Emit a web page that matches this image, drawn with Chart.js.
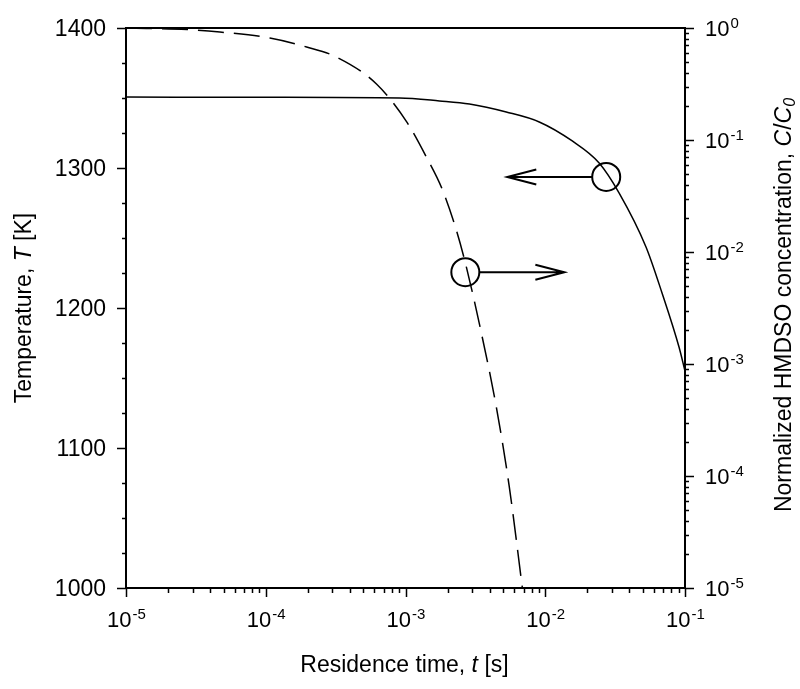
<!DOCTYPE html>
<html>
<head>
<meta charset="utf-8">
<script src="https://cdn.jsdelivr.net/npm/chart.js@4.4.1/dist/chart.umd.min.js"></script>
<style>
  html, body { margin: 0; padding: 0; background: #fff; }
  #wrap { width: 800px; height: 689px; }
</style>
</head>
<body>
<div id="wrap"><canvas id="chart"></canvas></div>
<script>
// Temperature along the reactor (solid line, left axis)
const tempTimes = [1e-5, 1e-4, 9.06e-4, 1.75e-3, 2.87e-3, 5.26e-3, 9.06e-3, 1.56e-2,
                   2.43e-2, 3.38e-2, 5.26e-2, 6.85e-2, 9.06e-2, 1e-1];
const tempValues = [1350.7, 1350.5, 1350, 1347.9, 1345.7, 1340, 1332.9, 1319.3,
                    1303.6, 1282.1, 1243.6, 1210.7, 1172.1, 1155];

// Normalized HMDSO concentration (dashed line, right axis)
const concTimes = [1e-5, 2.73e-5, 4.7e-5, 1.07e-4, 1.96e-4, 3.2e-4, 6.2e-4, 1.02e-3, 1.41e-3,
                   1.84e-3, 2.31e-3, 2.73e-3, 3.49e-3, 4.47e-3, 5.53e-3, 6.86e-3];
const concValues = [1.0, 0.97, 0.921, 0.814, 0.677, 0.551, 0.316, 0.145, 0.0705,
                    0.0358, 0.0157, 7.3e-3, 1.89e-3, 4.1e-4, 8.0e-5, 1.0e-5];

// Axis ticks
const timeTicks = [1e-5, 1e-4, 1e-3, 1e-2, 1e-1];
const timeTickExps = ['-5', '-4', '-3', '-2', '-1'];
const tempTicks = [1000, 1100, 1200, 1300, 1400];
const tempTickLabels = ['1000', '1100', '1200', '1300', '1400'];
const concTicks = [1e-5, 1e-4, 1e-3, 1e-2, 1e-1, 1];
const concTickExps = ['-5', '-4', '-3', '-2', '-1', '0'];

// Circle + arrow markers (which curve belongs to which axis)
const markerTimes = [2.73e-2, 2.68e-3];
const markerValues = [1293.6, 6.6e-3];
const markerAxes = ['y', 'y2'];
const arrowTipTimes = [5.35e-3, 1.37e-2];

const FONT = '"Liberation Sans", Arial, sans-serif';

// add 2..9 minor ticks between decades
function withMinors(decades) {
    const out = [];
    for (let i = 0; i < decades.length; i++) {
        out.push(decades[i]);
        if (i < decades.length - 1) {
            for (let k = 2; k <= 9; k++) out.push(k * decades[i]);
        }
    }
    return out;
}

function drawPower(ctx, exp, x, y, align) {
    // "10" with superscript exponent; y = baseline of "10"
    ctx.font = '22px ' + FONT;
    const wb = ctx.measureText('10').width;
    ctx.font = '15px ' + FONT;
    const we = ctx.measureText(exp).width;
    let x0 = x;
    if (align === 'center') x0 = x - (wb + we) / 2;
    ctx.textAlign = 'left';
    ctx.textBaseline = 'alphabetic';
    ctx.font = '22px ' + FONT;
    ctx.fillText('10', x0, y);
    ctx.font = '15px ' + FONT;
    ctx.fillText(exp, x0 + wb + 1, y - 8);
}

// parts: [text, style] where style is '', 'i' or 'sub'
function drawRich(ctx, parts, cx, cy, rot) {
    const size = 23;
    const fontFor = st => (st === 'i' || st === 'sub' ? 'italic ' : '') +
        (st === 'sub' ? 16 : size) + 'px ' + FONT;
    let total = 0;
    parts.forEach(p => { ctx.font = fontFor(p[1]); total += ctx.measureText(p[0]).width; });
    ctx.save();
    ctx.translate(cx, cy);
    if (rot) ctx.rotate(rot);
    ctx.textAlign = 'left';
    ctx.textBaseline = 'middle';
    let x = -total / 2;
    parts.forEach(p => {
        ctx.font = fontFor(p[1]);
        ctx.fillText(p[0], x, p[1] === 'sub' ? 6 : 0);
        x += ctx.measureText(p[0]).width;
    });
    ctx.restore();
}

const axesPlugin = {
    id: 'axesPlugin',
    afterDraw(chart) {
        const ctx = chart.ctx;
        const a = chart.chartArea;
        const xs = chart.scales.x, ys = chart.scales.y, y2 = chart.scales.y2;
        ctx.save();
        ctx.strokeStyle = '#000';
        ctx.fillStyle = '#000';

        // frame
        ctx.lineWidth = 2;
        ctx.strokeRect(a.left, a.top, a.right - a.left, a.bottom - a.top);

        // tick marks
        ctx.lineWidth = 1.5;
        ctx.beginPath();
        xs.ticks.forEach(t => {
            const px = Math.round(xs.getPixelForValue(t.value)) + 0.5;
            const len = timeTicks.includes(t.value) ? 9 : 5;
            ctx.moveTo(px, a.bottom); ctx.lineTo(px, a.bottom + len);
        });
        ys.ticks.forEach(t => {
            const py = Math.round(ys.getPixelForValue(t.value)) + 0.5;
            const len = tempTicks.includes(t.value) ? 9 : 4;
            ctx.moveTo(a.left, py); ctx.lineTo(a.left - len, py);
        });
        y2.ticks.forEach(t => {
            const py = Math.round(y2.getPixelForValue(t.value)) + 0.5;
            const len = concTicks.includes(t.value) ? 9 : 4;
            ctx.moveTo(a.right, py); ctx.lineTo(a.right + len, py);
        });
        ctx.stroke();

        // tick labels
        timeTicks.forEach((v, i) => {
            drawPower(ctx, timeTickExps[i], xs.getPixelForValue(v), a.bottom + 39, 'center');
        });
        tempTicks.forEach((v, i) => {
            ctx.font = '23px ' + FONT;
            ctx.textAlign = 'right';
            ctx.textBaseline = 'alphabetic';
            ctx.fillText(tempTickLabels[i], a.left - 20, ys.getPixelForValue(v) + 8);
        });
        concTicks.forEach((v, i) => {
            drawPower(ctx, concTickExps[i], a.right + 20, y2.getPixelForValue(v) + 8, 'left');
        });

        // axis titles
        drawRich(ctx, [['Residence time, ', ''], ['t', 'i'], [' [s]', '']],
            (a.left + a.right) / 2 - 1, a.bottom + 78, 0);
        drawRich(ctx, [['Temperature, ', ''], ['T', 'i'], [' [K]', '']],
            25, (a.top + a.bottom) / 2, -Math.PI / 2);
        drawRich(ctx, [['Normalized HMDSO concentration, ', ''], ['C', 'i'], ['/', ''], ['C', 'i'], ['0', 'sub']],
            785, (a.top + a.bottom) / 2 - 3, -Math.PI / 2);

        // circles with arrows pointing to each curve's axis
        ctx.lineWidth = 2;
        const r = 14;
        markerTimes.forEach((t, i) => {
            const cx = xs.getPixelForValue(t);
            const cy = chart.scales[markerAxes[i]].getPixelForValue(markerValues[i]);
            const tip = xs.getPixelForValue(arrowTipTimes[i]);
            const dir = tip > cx ? 1 : -1;
            ctx.beginPath();
            ctx.arc(cx, cy, r, 0, Math.PI * 2);
            ctx.stroke();
            ctx.beginPath();
            ctx.moveTo(cx + dir * r, cy);
            ctx.lineTo(tip, cy);
            ctx.moveTo(tip - dir * 29, cy - 7.5);
            ctx.lineTo(tip, cy);
            ctx.lineTo(tip - dir * 29, cy + 7.5);
            ctx.stroke();
        });
        ctx.restore();
    }
};

const hidden = { grid: { display: false }, border: { display: false }, ticks: { display: false } };

new Chart(document.getElementById('chart'), {
    type: 'line',
    data: {
        datasets: [{
            label: 'Temperature',
            data: tempTimes.map((t, i) => ({ x: t, y: tempValues[i] })),
            yAxisID: 'y',
            borderColor: '#000',
            borderWidth: 1.5,
            pointRadius: 0,
            cubicInterpolationMode: 'monotone',
            fill: false
        }, {
            label: 'HMDSO concentration',
            data: concTimes.map((t, i) => ({ x: t, y: concValues[i] })),
            yAxisID: 'y2',
            borderColor: '#000',
            borderWidth: 1.5,
            borderDash: [26, 10],
            pointRadius: 0,
            cubicInterpolationMode: 'monotone',
            fill: false
        }]
    },
    options: {
        responsive: true,
        maintainAspectRatio: false,
        animation: false,
        layout: { padding: { top: 28, left: 0, right: 0, bottom: 0 } },
        plugins: { legend: { display: false }, tooltip: { enabled: false } },
        scales: {
            x: {
                type: 'logarithmic', position: 'bottom', min: 1e-5, max: 1e-1, ...hidden,
                afterBuildTicks: s => { s.ticks = withMinors(timeTicks).map(v => ({ value: v })); },
                afterFit: s => { s.height = 101; }
            },
            y: {
                type: 'linear', position: 'left', min: 1000, max: 1400, ...hidden,
                ticks: { display: false, stepSize: 25 },
                afterFit: s => { s.width = 126; }
            },
            y2: {
                type: 'logarithmic', position: 'right', min: 1e-5, max: 1, ...hidden,
                afterBuildTicks: s => { s.ticks = withMinors(concTicks).map(v => ({ value: v })); },
                afterFit: s => { s.width = 115; }
            }
        }
    },
    plugins: [axesPlugin]
});
</script>
</body>
</html>
